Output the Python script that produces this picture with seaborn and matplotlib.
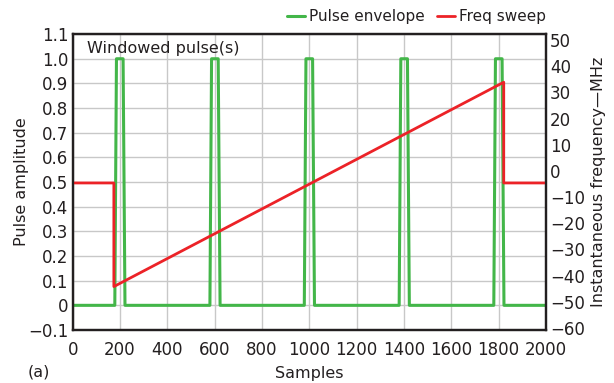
import matplotlib
matplotlib.use("Agg")
import matplotlib.pyplot as plt
import seaborn as sns
import pandas as pd

# ---- data ----
pulse_x = [0, 178, 185, 213, 221, 580, 587, 615, 623, 979, 986, 1014, 1022,
           1380, 1387, 1415, 1423, 1780, 1787, 1815, 1823, 2000]
pulse_y = [0, 0, 1, 1, 0, 0, 1, 1, 0, 0, 1, 1, 0,
           0, 1, 1, 0, 0, 1, 1, 0, 0]
sweep_x = [0, 174, 174, 1822, 1822, 2000]
sweep_mhz = [-4.6, -4.6, -44.2, 33.9, -4.6, -4.6]

x_ticks = [0, 200, 400, 600, 800, 1000, 1200, 1400, 1600, 1800, 2000]
left_ticks = [1.1, 1.0, 0.9, 0.8, 0.7, 0.6, 0.5, 0.4, 0.3, 0.2, 0.1, 0, -0.1]
left_labels = ["1.1", "1.0", "0.9", "0.8", "0.7", "0.6", "0.5", "0.4", "0.3",
               "0.2", "0.1", "0", "\u22120.1"]
right_ticks = [50, 40, 30, 20, 10, 0, -10, -20, -30, -40, -50, -60]

GREEN = "#43b649"
RED = "#ec2227"
INK = "#231f20"

sns.set_theme(style="white")
plt.rcParams['font.family'] = ['DejaVu Sans']

fig = plt.figure(figsize=(6.14, 3.83), dpi=100)
ax = fig.add_axes([0.1184, 0.1384, 0.889 - 0.1184, 0.911 - 0.1384])
ax2 = ax.twinx()

pulse_df = pd.DataFrame({"x": pulse_x, "y": pulse_y})
sweep_df = pd.DataFrame({"x": sweep_x, "y": sweep_mhz})

sns.lineplot(data=pulse_df, x="x", y="y", ax=ax, color=GREEN, lw=2.2,
             estimator=None, sort=False, label="Pulse envelope", legend=False)
sns.lineplot(data=sweep_df, x="x", y="y", ax=ax2, color=RED, lw=2.0,
             estimator=None, sort=False, label="Freq sweep", legend=False)

ax.set_xlim(0, 2000)
ax.set_ylim(-0.1, 1.1)
ax2.set_ylim(-60.8, 52.3)

ax.set_xticks(x_ticks)
ax.set_xticklabels([str(t) for t in x_ticks])
ax.set_yticks(left_ticks)
ax.set_yticklabels(left_labels)
ax2.set_yticks(right_ticks)
ax2.set_yticklabels([str(t).replace("-", "\u2212") for t in right_ticks])

ax.grid(True, color="#c8c8c8", lw=1.0)
ax2.grid(False)
ax.set_axisbelow(True)

for a in (ax, ax2):
    a.tick_params(axis="both", length=0, labelsize=12, pad=3, colors=INK)
    for s in a.spines.values():
        s.set_color(INK)
        s.set_linewidth(1.6)
ax.tick_params(axis="x", pad=8)

ax.set_xlabel("Samples", fontsize=11.5, color=INK, labelpad=5)
ax.set_ylabel("Pulse amplitude", fontsize=11.5, color=INK, labelpad=-0.5)
ax2.set_ylabel("Instantaneous frequency\u2014MHz", fontsize=11.5,
               color=INK, labelpad=4)

ax.text(0.03, 0.975, "Windowed pulse(s)", transform=ax.transAxes,
        ha="left", va="top", fontsize=11.5, color=INK)
fig.text(0.045, 0.03, "(a)", fontsize=11.5, color=INK, ha="left", va="center")

h1, l1 = ax.get_legend_handles_labels()
h2, l2 = ax2.get_legend_handles_labels()
fig.legend(h1 + h2, l1 + l2, loc="center right", bbox_to_anchor=(0.889, 0.957),
           ncol=2, frameon=False, fontsize=11, handlelength=1.2,
           handletextpad=0.25, columnspacing=0.8, borderaxespad=0,
           borderpad=0, labelcolor=INK)

fig.savefig("out.png", dpi=100)
